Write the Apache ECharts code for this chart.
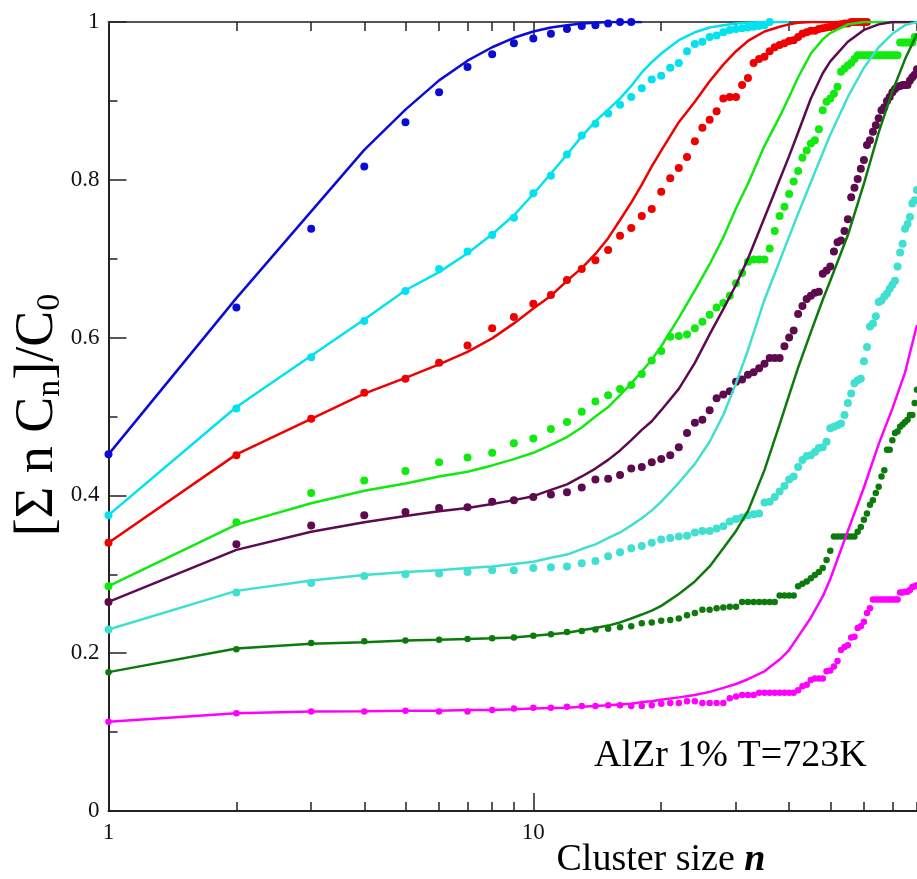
<!DOCTYPE html>
<html>
<head>
<meta charset="utf-8">
<script src="https://cdn.jsdelivr.net/npm/echarts@6/dist/echarts.min.js"></script>
<style>
html, body { margin: 0; padding: 0; background: #fff; }
#chart { width: 917px; height: 879px; }
</style>
</head>
<body>
<div id="chart"></div>
<script>
// cluster sizes where the model curves are sampled
var fitN = [1, 2, 3, 4, 5, 6, 7, 8, 9, 10, 11, 12, 13, 14, 15, 16, 17, 18, 19, 20,
            22, 24, 26, 28, 30, 32, 35, 38, 40, 42, 45, 48, 50, 55, 60, 65, 70, 75, 80];

// model curves (values on fitN, shorter arrays stop early)
var blueFit = [0.452, 0.650, 0.760, 0.838, 0.889, 0.926, 0.951, 0.968, 0.980, 0.988,
               0.993, 0.996, 0.998, 0.999, 1.0, 1.0, 1.0, 1.0];
var cyanFit = [0.375, 0.512, 0.577, 0.623, 0.660, 0.683, 0.707, 0.731, 0.755, 0.782,
               0.808, 0.832, 0.855, 0.874, 0.889, 0.903, 0.919, 0.936, 0.949, 0.960,
               0.977, 0.987, 0.993, 0.996, 0.998, 0.999, 1.0, 1.0, 1.0];
var redFit = [0.340, 0.452, 0.497, 0.529, 0.549, 0.566, 0.582, 0.599, 0.618, 0.637,
              0.653, 0.672, 0.688, 0.706, 0.726, 0.749, 0.771, 0.794, 0.817, 0.837,
              0.873, 0.899, 0.925, 0.946, 0.963, 0.976, 0.988, 0.994, 0.997, 0.999,
              1.0, 1.0, 1.0, 1.0, 1.0];
var greenFit = [0.285, 0.363, 0.390, 0.406, 0.415, 0.424, 0.430, 0.438, 0.446, 0.454,
                0.464, 0.474, 0.486, 0.500, 0.512, 0.527, 0.542, 0.557, 0.572, 0.589,
                0.625, 0.660, 0.693, 0.727, 0.764, 0.795, 0.843, 0.880, 0.905, 0.930,
                0.960, 0.978, 0.986, 0.997, 1.0, 1.0, 1.0, 1.0, 1.0];
var maroonFit = [0.265, 0.331, 0.354, 0.366, 0.374, 0.380, 0.384, 0.389, 0.394, 0.399,
                 0.407, 0.414, 0.424, 0.434, 0.445, 0.457, 0.470, 0.483, 0.494, 0.508,
                 0.535, 0.568, 0.604, 0.636, 0.667, 0.700, 0.752, 0.800, 0.830, 0.860,
                 0.903, 0.935, 0.950, 0.975, 0.990, 0.997, 1.0, 1.0, 1.0];
var turqFit = [0.230, 0.279, 0.292, 0.299, 0.303, 0.305, 0.308, 0.310, 0.313, 0.316,
               0.321, 0.325, 0.332, 0.338, 0.346, 0.353, 0.362, 0.371, 0.381, 0.392,
               0.416, 0.440, 0.468, 0.502, 0.542, 0.584, 0.648, 0.697, 0.728, 0.757,
               0.797, 0.834, 0.857, 0.905, 0.942, 0.968, 0.985, 0.996, 1.0];
var darkGreenFit = [0.176, 0.206, 0.212, 0.214, 0.216, 0.217, 0.218, 0.219, 0.220, 0.222,
                    0.224, 0.226, 0.229, 0.232, 0.235, 0.239, 0.244, 0.249, 0.254, 0.260,
                    0.275, 0.291, 0.310, 0.333, 0.355, 0.380, 0.432, 0.490, 0.527, 0.562,
                    0.607, 0.648, 0.672, 0.730, 0.795, 0.860, 0.912, 0.953, 0.985];
var magentaFit = [0.113, 0.124, 0.126, 0.1265, 0.127, 0.127, 0.128, 0.128, 0.129, 0.130,
                  0.1305, 0.131, 0.132, 0.133, 0.134, 0.135, 0.136, 0.138, 0.139, 0.141,
                  0.144, 0.147, 0.151, 0.156, 0.161, 0.167, 0.177, 0.192, 0.204, 0.221,
                  0.245, 0.272, 0.294, 0.355, 0.410, 0.465, 0.510, 0.556, 0.616];

// simulation points, one value per cluster size n = 1, 2, 3, ...
var blueDots = [0.452, 0.638, 0.738, 0.817, 0.873, 0.911, 0.943, 0.959, 0.973, 0.979,
                0.985, 0.991, 0.995, 0.996, 0.998, 1.0, 1.0];
var cyanDots = [0.375, 0.510, 0.575, 0.621, 0.659, 0.687, 0.709, 0.730, 0.752, 0.783,
                0.805, 0.832, 0.856, 0.871, 0.884, 0.895, 0.905, 0.916, 0.927, 0.932,
                0.942, 0.948, 0.963, 0.972, 0.975, 0.981, 0.983, 0.987, 0.990, 0.991,
                0.992, 0.993, 0.994, 0.995, 0.996, 1.0];
var redDots = [0.340, 0.451, 0.497, 0.530, 0.548, 0.568, 0.590, 0.612, 0.626, 0.643,
               0.654, 0.673, 0.687, 0.698, 0.711, 0.729, 0.739, 0.754, 0.763, 0.785,
               0.802, 0.815, 0.829, 0.849, 0.866, 0.876, 0.887, 0.903, 0.905, 0.905,
               0.920, 0.929, 0.948, 0.953, 0.956, 0.963, 0.968, 0.971, 0.973, 0.976,
               0.977, 0.981, 0.985, 0.987, 0.989, 0.989, 0.991, 0.992, 0.993, 0.994,
               0.995, 0.996, 0.997, 0.998, 0.998, 1.0, 1.0, 1.0, 1.0, 1.0, 1.0];
var greenDots = [0.285, 0.366, 0.403, 0.419, 0.431, 0.442, 0.448, 0.454, 0.466, 0.472,
                 0.484, 0.493, 0.506, 0.519, 0.527, 0.535, 0.540, 0.554, 0.571, 0.583,
                 0.601, 0.602, 0.604, 0.612, 0.620, 0.629, 0.638, 0.644, 0.653, 0.669,
                 0.682, 0.696, 0.699, 0.699, 0.699, 0.713, 0.735, 0.754, 0.766, 0.782,
                 0.798, 0.811, 0.828, 0.837, 0.846, 0.850, 0.864, 0.888, 0.899, 0.903,
                 0.909, 0.918, 0.937, 0.941, 0.945, 0.948, 0.953, 0.958, 0.958, 0.958,
                 0.958, 0.958, 0.958, 0.958, 0.958, 0.958, 0.958, 0.958, 0.958, 0.958,
                 0.958, 0.958, 0.974, 0.974, 0.974, 0.974, 0.974, 0.974, 0.981, 0.981];
var maroonDots = [0.265, 0.338, 0.362, 0.375, 0.379, 0.384, 0.385, 0.392, 0.394, 0.398,
                  0.401, 0.404, 0.410, 0.420, 0.421, 0.426, 0.434, 0.436, 0.442, 0.446,
                  0.451, 0.461, 0.479, 0.492, 0.496, 0.508, 0.523, 0.528, 0.532, 0.544,
                  0.547, 0.553, 0.556, 0.561, 0.567, 0.574, 0.574, 0.574, 0.589, 0.600,
                  0.609, 0.630, 0.640, 0.649, 0.653, 0.657, 0.658, 0.681, 0.685, 0.690,
                  0.709, 0.721, 0.723, 0.735, 0.750, 0.778, 0.790, 0.801, 0.814, 0.825,
                  0.844, 0.850, 0.861, 0.869, 0.878, 0.888, 0.892, 0.900, 0.905, 0.911,
                  0.915, 0.918, 0.919, 0.920, 0.920, 0.920, 0.926, 0.930, 0.933, 0.940];
var turqDots = [0.230, 0.277, 0.289, 0.298, 0.300, 0.301, 0.303, 0.305, 0.305, 0.308,
                0.309, 0.310, 0.314, 0.317, 0.323, 0.328, 0.333, 0.336, 0.340, 0.344,
                0.346, 0.348, 0.349, 0.353, 0.355, 0.355, 0.358, 0.361, 0.367, 0.370,
                0.372, 0.375, 0.376, 0.377, 0.391, 0.392, 0.398, 0.405, 0.412, 0.420,
                0.424, 0.436, 0.445, 0.450, 0.451, 0.455, 0.460, 0.461, 0.468, 0.485,
                0.487, 0.489, 0.491, 0.502, 0.517, 0.529, 0.542, 0.546, 0.548, 0.570,
                0.588, 0.614, 0.618, 0.627, 0.645, 0.647, 0.652, 0.656, 0.662, 0.667,
                0.672, 0.690, 0.708, 0.719, 0.738, 0.744, 0.753, 0.770, 0.774, 0.787];
var darkGreenDots = [0.176, 0.205, 0.213, 0.215, 0.216, 0.217, 0.218, 0.219, 0.220, 0.222,
                     0.224, 0.227, 0.228, 0.230, 0.231, 0.233, 0.234, 0.238, 0.239, 0.241,
                     0.242, 0.244, 0.248, 0.251, 0.255, 0.255, 0.257, 0.258, 0.259, 0.259,
                     0.265, 0.265, 0.265, 0.265, 0.265, 0.265, 0.265, 0.273, 0.273, 0.273,
                     0.273, 0.285, 0.288, 0.291, 0.295, 0.299, 0.303, 0.308, 0.318, 0.330,
                     0.348, 0.348, 0.348, 0.348, 0.348, 0.348, 0.348, 0.354, 0.360, 0.369,
                     0.377, 0.388, 0.394, 0.403, 0.411, 0.424, 0.432, 0.458, 0.458, 0.470,
                     0.479, 0.481, 0.487, 0.490, 0.493, 0.496, 0.502, 0.502, 0.517, 0.534];
var magentaDots = [0.113, 0.124, 0.126, 0.126, 0.127, 0.126, 0.126, 0.128, 0.130, 0.131,
                   0.131, 0.132, 0.133, 0.133, 0.134, 0.134, 0.133, 0.133, 0.134, 0.136,
                   0.137, 0.137, 0.139, 0.139, 0.137, 0.137, 0.137, 0.137, 0.143, 0.145,
                   0.147, 0.147, 0.147, 0.150, 0.150, 0.150, 0.150, 0.150, 0.150, 0.150,
                   0.150, 0.153, 0.158, 0.160, 0.166, 0.168, 0.168, 0.168, 0.177, 0.178,
                   0.183, 0.190, 0.204, 0.208, 0.210, 0.220, 0.221, 0.232, 0.234, 0.240,
                   0.251, 0.257, 0.268, 0.268, 0.268, 0.268, 0.268, 0.268, 0.268, 0.268,
                   0.268, 0.268, 0.277, 0.277, 0.278, 0.278, 0.280, 0.284, 0.285, 0.286];

// axis ticks and labels
var xMajorTicks = [10];
var xMinorTicks = [2, 3, 4, 5, 6, 7, 8, 9, 20, 30, 40, 50, 60, 70, 80];
var xLabels = [1, 10];

(function () {
    var myChart = echarts.init(document.getElementById('chart'));
    var serif = '"Liberation Serif", "DejaVu Serif", serif';
    var axisColor = '#222';

    function fitData(values) {
        var out = [];
        for (var i = 0; i < values.length; i++) {
            out.push([fitN[i], values[i]]);
        }
        return out;
    }
    function dotData(values) {
        return values.map(function (v, i) { return [i + 1, v]; });
    }

    var groups = [
        { color: '#0b0bd6', fit: blueFit, dots: blueDots, size: 8 },
        { color: '#00e3ef', fit: cyanFit, dots: cyanDots, size: 8 },
        { color: '#f00000', fit: redFit, dots: redDots, size: 8 },
        { color: '#10ea10', fit: greenFit, dots: greenDots, size: 8 },
        { color: '#5e0a4e', fit: maroonFit, dots: maroonDots, size: 8 },
        { color: '#40e0d0', fit: turqFit, dots: turqDots, size: 8 },
        { color: '#0d7a0d', fit: darkGreenFit, dots: darkGreenDots, size: 6.5 },
        { color: '#ff00ff', fit: magentaFit, dots: magentaDots, size: 6.5 }
    ];

    var series = [];
    groups.forEach(function (g) {
        series.push({
            type: 'line',
            data: fitData(g.fit),
            showSymbol: false,
            lineStyle: { color: g.color, width: 2.5 },
            itemStyle: { color: g.color },
            animation: false
        });
        series.push({
            type: 'scatter',
            data: dotData(g.dots),
            symbolSize: g.size,
            itemStyle: { color: g.color, opacity: 1 },
            animation: false
        });
    });

    // one x axis per tick set (major/minor, bottom/top)
    function logAxis(position, ticks, len, withLine, labels) {
        return {
            type: 'log',
            logBase: 10,
            min: 1,
            max: 80,
            position: position,
            axisLine: { show: withLine, lineStyle: { color: position === 'top' ? '#555' : axisColor, width: 2 } },
            axisTick: { show: true, inside: true, length: len, customValues: ticks,
                        lineStyle: { color: axisColor, width: 1.5 } },
            axisLabel: labels ? { show: true, customValues: labels, margin: 10,
                                  fontFamily: serif, fontSize: 23, color: '#111' }
                              : { show: false },
            splitLine: { show: false }
        };
    }

    var option = {
        backgroundColor: '#fff',
        grid: { left: 108.5, top: 22, right: 0, bottom: 68 },
        xAxis: [
            logAxis('bottom', xMajorTicks, 18, true, xLabels),
            logAxis('bottom', xMinorTicks, 9, false, null),
            logAxis('top', xMajorTicks, 18, true, null),
            logAxis('top', xMinorTicks, 9, false, null)
        ],
        yAxis: {
            type: 'value',
            min: 0,
            max: 1,
            interval: 0.2,
            axisLine: { show: true, lineStyle: { color: axisColor, width: 2 } },
            axisTick: { inside: true, length: 18, lineStyle: { color: axisColor, width: 1.5 } },
            minorTick: { show: true, splitNumber: 2, length: 9, lineStyle: { color: axisColor, width: 1.5 } },
            axisLabel: { margin: 9, fontFamily: serif, fontSize: 23, color: '#111' },
            splitLine: { show: false }
        },
        graphic: [
            {
                type: 'text',
                x: 38,
                y: 415,
                rotation: Math.PI / 2,
                style: {
                    text: '{m|[Σ n C}{s|n}{m|]/C}{s|0}',
                    rich: {
                        m: { fontSize: 54, fontFamily: serif, fill: '#000', lineHeight: 58 },
                        s: { fontSize: 34, fontFamily: serif, fill: '#000', lineHeight: 34, verticalAlign: 'bottom' }
                    },
                    align: 'center',
                    verticalAlign: 'middle'
                }
            },
            {
                type: 'text',
                x: 661,
                y: 860,
                style: {
                    text: '{a|Cluster size }{b|n}',
                    rich: {
                        a: { fontSize: 38, fontFamily: serif, fill: '#000' },
                        b: { fontSize: 38, fontFamily: serif, fontWeight: 'bold', fontStyle: 'italic', fill: '#000' }
                    },
                    align: 'center',
                    verticalAlign: 'middle'
                }
            },
            {
                type: 'text',
                x: 594,
                y: 756,
                style: {
                    text: 'AlZr 1% T=723K',
                    font: '38px "Liberation Serif", serif',
                    fill: '#000',
                    align: 'left',
                    verticalAlign: 'middle'
                }
            }
        ],
        series: series
    };

    myChart.setOption(option);
    window.addEventListener('resize', function () {
        myChart.resize();
    });
})();
</script>
</body>
</html>
